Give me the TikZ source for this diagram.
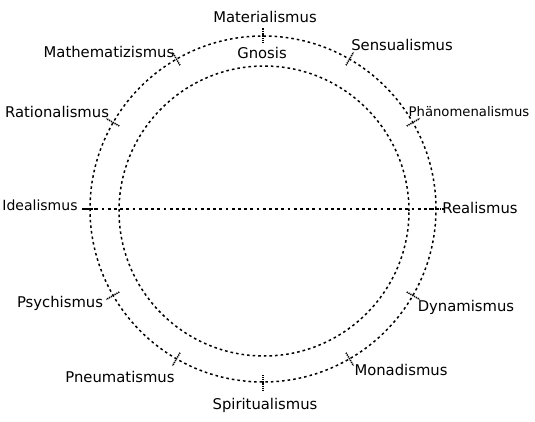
\documentclass[tikz,border=0pt]{standalone}
\usepackage{fontspec}
\setmainfont{DejaVu Sans}
\begin{document}
\begin{tikzpicture}[x=1pt,y=1pt,
  circ/.style={line width=1.5pt, dash pattern=on 2.6pt off 3pt},
  hline/.style={line width=1.4pt, dash pattern=on 2.8pt off 3.4pt},
  tickmark/.style={line width=1.6pt, dash pattern=on 1.2pt off 0.9pt},
  lab/.style={font=\fontsize{14.8}{15}\selectfont, inner sep=0pt}]
\useasboundingbox (0,0) rectangle (535,421);
\coordinate (O) at (263,212);
\coordinate (I) at (264,210);
\draw[circ] (O) circle (173);
\draw[circ] (I) circle (145);
\foreach \a in {0,30,...,330}{
  \draw[tickmark, shift={(O)}] (\a:166) -- (\a:181);
}
\coordinate (L) at (83,212);
\coordinate (R) at (446,212);
\draw[hline] (L) -- (R);
\node[lab] (mat) at (265,404) {Materialismus};
\node[lab] (gno) at (262,368) {Gnosis};
\node[lab] (mth) at (109,369) {Mathematizismus};
\node[lab] (rat) at (57,309) {Rationalismus};
\node[lab] (sen) at (402,376) {Sensualismus};
\node[lab, font=\fontsize{13.2}{14}\selectfont] (pha) at (469,309) {Phänomenalismus};
\node[lab, font=\fontsize{14}{15}\selectfont] (ide) at (40,216) {Idealismus};
\node[lab] (rea) at (480,213) {Realismus};
\node[lab] (psy) at (60,118) {Psychismus};
\node[lab] (pne) at (120,44) {Pneumatismus};
\node[lab] (spi) at (265,16) {Spiritualismus};
\node[lab] (dyn) at (466,114) {Dynamismus};
\node[lab] (mon) at (401,51) {Monadismus};
\end{tikzpicture}
\end{document}
